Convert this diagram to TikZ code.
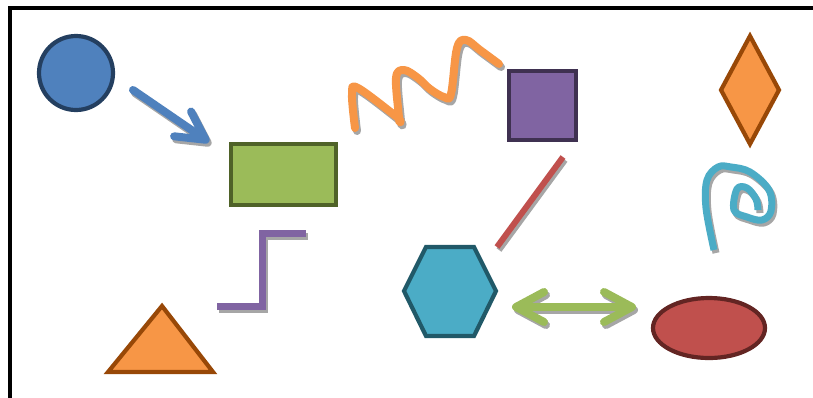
\documentclass[tikz,border=0pt]{standalone}
\usepackage{xcolor}
\usepackage{tikz}
\usetikzlibrary{arrows.meta}

\definecolor{officeblue}{HTML}{4F81BD}
\definecolor{officeblueline}{HTML}{243F60}
\definecolor{officegreen}{HTML}{9BBB59}
\definecolor{officegreenline}{HTML}{4F6228}
\definecolor{officeorange}{HTML}{F79646}
\definecolor{officeorangeline}{HTML}{984807}
\definecolor{officepurple}{HTML}{8064A2}
\definecolor{officepurpleline}{HTML}{3F3151}
\definecolor{officeteal}{HTML}{4BACC6}
\definecolor{officetealline}{HTML}{215968}
\definecolor{officered}{HTML}{C0504D}
\definecolor{officeredline}{HTML}{632523}
\definecolor{shadowgray}{HTML}{A6A6A6}

% stroke drawn twice: grey copy shifted down right, then the coloured one
\newcommand{\shadowdraw}[2]{%
  \begin{scope}[transform canvas={shift={(2pt,-3pt)}}]
    \draw[#1, draw=shadowgray] #2;
  \end{scope}
  \draw[#1] #2;}

\begin{document}
\begin{tikzpicture}[x=1pt,y=-1pt]
			\tikzstyle{outline} = [line width=4.2pt, line join=miter]
			\tikzstyle{stroke} = [line width=7pt, line cap=round, line join=round]
			\tikzset{barb/.style = {-{Straight Barb[round, length=28pt, width=30pt]}}}
			
			\useasboundingbox (0,0) rectangle (813,397);
			\draw[line width=4pt] (9.5,420) -- (9.5,8) -- (830,8);
			
			% closed shapes
			\draw[outline, fill=officeblue, draw=officeblueline] (76,73) circle (37);
			\draw[outline, fill=officegreen, draw=officegreenline] (231,144) rectangle (336,205);
			\draw[outline, fill=officepurple, draw=officepurpleline] (509,71) rectangle (576,140);
			\draw[outline, fill=officeorange, draw=officeorangeline] (750,36) -- (779,90) -- (750,144) -- (721,90) -- cycle;
			\draw[outline, fill=officeteal, draw=officetealline] (404,291) -- (426,247) -- (474,247) -- (496,291) -- (474,336) -- (426,336) -- cycle;
			\draw[outline, fill=officered, draw=officeredline] (709,328) ellipse (56 and 30);
			\draw[outline, fill=officeorange, draw=officeorangeline] (162,306) -- (213,372) -- (108,372) -- cycle;
			
			% lines
			\shadowdraw{stroke, draw=officeblue, line width=8pt, barb}{(133,90) -- (209,142)}
			\shadowdraw{stroke, draw=officeorange, line width=8pt}{plot[smooth, tension=0.6] coordinates {(355,128) (352,94) (358,88) (397,117) (399,119) (396,78) (404,70) (418,78) (430,89) (444,97) (451,94) (457,48) (466,40) (480,50) (499,64)}}
			\shadowdraw{stroke, draw=officered, line width=6pt, line cap=butt}{(563,157) -- (497,247)}
			\shadowdraw{stroke, draw=officeteal, line cap=butt}{plot[smooth, tension=0.6] coordinates {(714,250) (706,208) (707,180) (718,167) (731,167) (750,172) (769,190) (771,211) (762,220) (747,217) (734,210) (737,189) (747,188) (756,199) (758,210)}}
			\shadowdraw{stroke, draw=officepurple, line join=miter, line cap=butt}{(217,306) -- (262,306) -- (262,233) -- (306,233)}
			\shadowdraw{stroke, draw=officegreen, line width=8pt, {Straight Barb[round, length=28pt, width=30pt]}-{Straight Barb[round, length=28pt, width=30pt]}}{(512,307) -- (636,307)}
			
			\end{tikzpicture}
\end{document}
